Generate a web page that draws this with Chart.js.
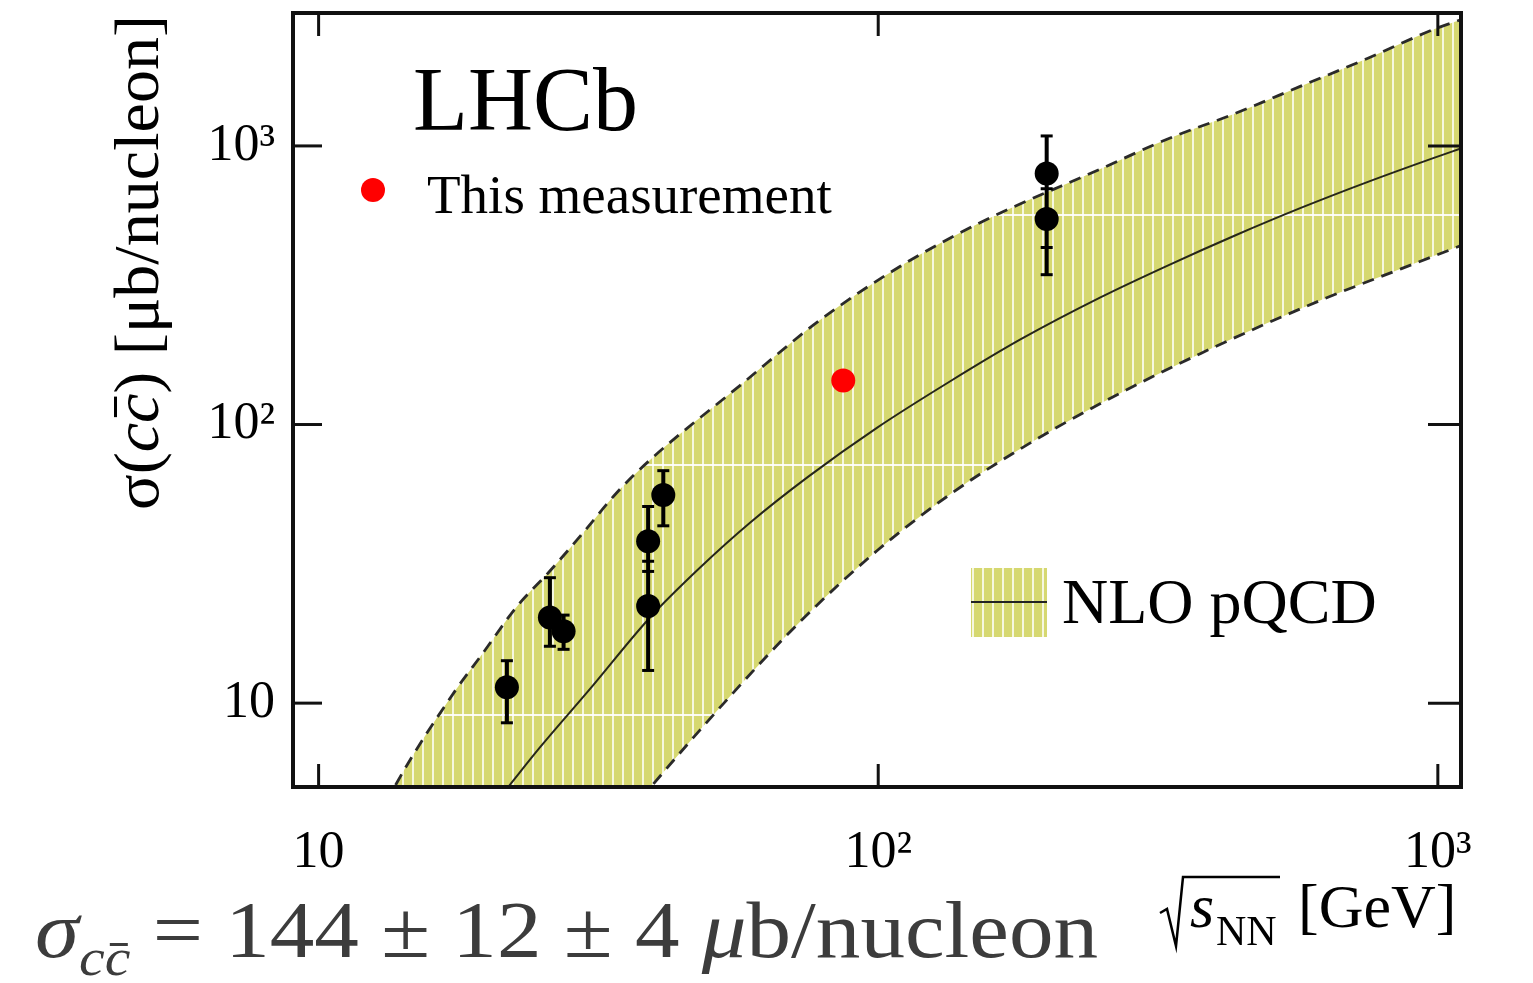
<!DOCTYPE html>
<html>
<head>
<meta charset="utf-8">
<title>Charm production cross-section vs energy</title>
<script src="https://cdn.jsdelivr.net/npm/chart.js@4.4.1/dist/chart.umd.min.js"></script>
<style>
  html, body { margin: 0; padding: 0; background: #fff; }
  canvas { display: block; }
</style>
</head>
<body>
<canvas id="xsecChart" width="1533" height="983"></canvas>
<script>
// fixed-target / collider measurements: sqrt(s_NN) [GeV], sigma(cc) [ub/nucleon]
const sqrtS   = [21.7, 25.9, 27.4, 38.8, 38.8, 41.3, 200, 200];
const sigma   = [11.4, 20.3, 18.1, 38.1, 22.3, 55.9, 796, 547];
const sigmaLo = [8.5, 16.0, 15.6, 29.7, 13.1, 43.3, 432, 345];
const sigmaHi = [14.2, 28.2, 20.7, 50.8, 32.3, 68.3, 1086, 702];

// this measurement
const lhcbS = [86.6];
const lhcbSigma = [144];

// NLO pQCD central value
const nloS     = [18.4, 21.9, 24.9, 30.5, 39.1, 48.0, 59.0, 75.0, 99.6, 134.5, 179.5, 249.5, 329, 432, 569, 750, 984, 1104];
const nloSigma = [3.26, 5.05, 6.96, 11.2, 20.3, 30.6, 44.4, 65.0, 97.5, 143, 202, 286, 372, 475, 599, 743, 906, 982];

// NLO pQCD uncertainty band, upper and lower edges
const bandUpS     = [12.3, 13.7, 17.5, 19.7, 22.6, 25.9, 29.7, 34.1, 39.1, 56.6, 78.7, 110, 152, 250, 329, 432, 569, 750, 984, 1104];
const bandUpSigma = [3.26, 5.05, 11.0, 15.2, 22.2, 29.8, 40.9, 56.9, 74.6, 138, 237, 372, 530, 828, 1059, 1302, 1639, 2064, 2622, 2847];
const bandLoS     = [12.3, 24, 32.9, 39.4, 53.7, 72.5, 99.6, 134.5, 179.5, 249.5, 377, 625, 859, 1104];
const bandLoSigma = [0.4, 1.6, 3.26, 5.05, 10.3, 19.6, 35.3, 56.2, 81.8, 119, 180, 282, 362, 440];

const xTickRange = [9, 1100];
const yTickRange = [5, 3000];

Chart.defaults.font.family = '"Liberation Serif", "Times New Roman", serif';
Chart.defaults.color = '#000';

const canvas = document.getElementById('xsecChart');
const ctx0 = canvas.getContext('2d');

// yellow hatch used for the band and its legend box
function makeHatch() {
    const c = document.createElement('canvas');
    c.width = 10;
    c.height = 250;
    const g = c.getContext('2d');
    g.fillStyle = '#d6d870';
    g.fillRect(0, 0, 10, 250);
    g.fillStyle = 'rgba(255,255,255,0.78)';
    g.fillRect(2, 0, 2, 250);
    g.fillStyle = 'rgba(255,255,255,0.9)';
    g.fillRect(0, 214, 10, 2);
    return ctx0.createPattern(c, 'repeat');
}
const hatch = makeHatch();

const pts = (xs, ys) => xs.map((x, i) => ({x: x, y: ys[i]}));

function isDecade(v) {
    const l = Math.log10(v);
    return Math.abs(l - Math.round(l)) < 1e-9;
}

function logTicks(min, max) {
    const out = [];
    for (let e = Math.floor(Math.log10(min)); e <= Math.ceil(Math.log10(max)); e++) {
        for (let m = 1; m <= 9; m++) {
            const v = Math.round(m * Math.pow(10, e));
            if (v > min && v < max) out.push({value: v});
        }
    }
    return out;
}

function decadeLabel(v) {
    if (Math.abs(v - 10) < 1e-6) return '10';
    if (Math.abs(v - 100) < 1e-6) return '10\u00b2';
    if (Math.abs(v - 1000) < 1e-6) return '10\u00b3';
    return null;
}

// pin the plot frame: axis boxes get fixed sizes and no label overhang
function pinX(s) {
    s.height = 196;
    s.paddingLeft = 0;
    s.paddingRight = 0;
}
function pinY(s) {
    s.width = 293;
    s.paddingTop = 0;
    s.paddingBottom = 0;
}

// error bars: lo/hi pairs separated by gaps
const errPoints = [];
sqrtS.forEach((s, i) => {
    errPoints.push({x: s, y: sigmaLo[i]}, {x: s, y: sigmaHi[i]}, {x: s, y: null});
});

// text made of several font runs, optional overline on a run
function drawRuns(ctx, runs, x, y, sx) {
    ctx.save();
    ctx.translate(x, y);
    ctx.scale(sx || 1, 1);
    let cx = 0;
    runs.forEach(r => {
        ctx.font = r.font;
        ctx.fillText(r.text, cx, r.dy || 0);
        const w = ctx.measureText(r.text).width;
        if (r.bar) {
            ctx.fillRect(cx + w * 0.2, (r.dy || 0) - r.bar, w * 0.7, r.barW || 3);
        }
        cx += w;
    });
    ctx.restore();
}

function runsWidth(ctx, runs) {
    let w = 0;
    runs.forEach(r => { ctx.font = r.font; w += ctx.measureText(r.text).width; });
    return w;
}

const serif = '"Liberation Serif", "Times New Roman", serif';

const frameAndText = {
    id: 'frameAndText',
    afterDraw(chart) {
        const ctx = chart.ctx;
        const a = chart.chartArea;
        const xs = chart.scales.x;
        const ys = chart.scales.y;
        ctx.save();

        // ticks on all four sides, pointing inwards
        ctx.strokeStyle = '#111';
        ctx.lineWidth = 3;
        const seg = (x1, y1, x2, y2) => {
            ctx.beginPath(); ctx.moveTo(x1, y1); ctx.lineTo(x2, y2); ctx.stroke();
        };
        xs.ticks.forEach(t => {
            const p = xs.getPixelForValue(t.value);
            const len = isDecade(t.value) ? 23 : 12;
            seg(p, a.bottom, p, a.bottom - len);
            seg(p, a.top, p, a.top + len);
        });
        ys.ticks.forEach(t => {
            const p = ys.getPixelForValue(t.value);
            const big = isDecade(t.value);
            seg(a.left, p, a.left + (big ? 29 : 16), p);
            seg(a.right, p, a.right - (big ? 33 : 17), p);
        });
        ctx.lineWidth = 4;
        ctx.strokeRect(a.left, a.top, a.right - a.left, a.bottom - a.top);

        ctx.fillStyle = '#000';
        ctx.textBaseline = 'alphabetic';
        ctx.textAlign = 'left';

        // experiment label
        ctx.font = '90px ' + serif;
        ctx.fillText('LHCb', 413, 130);

        // legend: this measurement
        ctx.fillStyle = '#ff0000';
        ctx.beginPath();
        ctx.arc(373, 190, 12, 0, Math.PI * 2);
        ctx.fill();
        ctx.fillStyle = '#000';
        ctx.font = '55px ' + serif;
        ctx.fillText('This measurement', 427, 213);

        // legend: NLO band
        ctx.fillStyle = hatch;
        ctx.fillRect(971, 568, 76, 69);
        ctx.strokeStyle = '#222';
        ctx.lineWidth = 2;
        seg(971, 602, 1047, 602);
        ctx.fillStyle = '#000';
        ctx.font = '64px ' + serif;
        ctx.fillText('NLO pQCD', 1062, 623);

        // y axis title
        const yRuns = [
            {text: '\u03c3(', font: '64px ' + serif},
            {text: 'c', font: 'italic 64px ' + serif},
            {text: 'c', font: 'italic 64px ' + serif, bar: 44, barW: 3},
            {text: ') [\u03bcb/nucleon]', font: '64px ' + serif}
        ];
        ctx.save();
        ctx.translate(158, 510);
        ctx.rotate(-Math.PI / 2);
        const yw = runsWidth(ctx, yRuns);
        drawRuns(ctx, yRuns, 0, 0, 495 / yw);
        ctx.restore();

        // x axis title: sqrt(s_NN) [GeV]
        ctx.strokeStyle = '#000';
        ctx.lineWidth = 2.5;
        ctx.beginPath();
        ctx.moveTo(1160, 913);
        ctx.lineTo(1167, 909);
        ctx.lineTo(1176, 946);
        ctx.lineTo(1183, 877);
        ctx.lineTo(1280, 877);
        ctx.stroke();
        ctx.font = 'italic 62px ' + serif;
        ctx.fillText('s', 1190, 927);
        ctx.font = '42px ' + serif;
        ctx.fillText('NN', 1216, 945);
        ctx.font = '62px ' + serif;
        ctx.fillText('[GeV]', 1298, 927);

        // result quoted under the plot
        ctx.fillStyle = '#3c3c3c';
        const fRuns = [
            {text: '\u03c3', font: 'italic 80px ' + serif},
            {text: 'c', font: 'italic 52px ' + serif, dy: 18},
            {text: 'c', font: 'italic 52px ' + serif, dy: 18, bar: 32, barW: 3},
            {text: ' = 144 \u00b1 12 \u00b1 4 ', font: '80px ' + serif},
            {text: '\u03bc', font: 'italic 80px ' + serif},
            {text: 'b/nucleon', font: '80px ' + serif}
        ];
        const fw = runsWidth(ctx, fRuns);
        drawRuns(ctx, fRuns, 35, 957, 1063 / fw);

        ctx.restore();
    }
};

new Chart(canvas, {
    type: 'line',
    data: {
        datasets: [
            {
                label: 'This measurement',
                data: pts(lhcbS, lhcbSigma),
                showLine: false,
                pointRadius: 12,
                pointBackgroundColor: '#ff0000',
                pointBorderWidth: 0
            },
            {
                label: 'Data',
                data: pts(sqrtS, sigma),
                showLine: false,
                pointRadius: 12,
                pointBackgroundColor: '#000',
                pointBorderWidth: 0
            },
            {
                label: 'Errors',
                data: errPoints,
                spanGaps: false,
                borderColor: '#000',
                borderWidth: 4,
                pointStyle: 'line',
                pointRadius: 6,
                pointBorderWidth: 3,
                pointBorderColor: '#000'
            },
            {
                label: 'NLO pQCD',
                data: pts(nloS, nloSigma),
                borderColor: '#26261a',
                borderWidth: 2,
                pointRadius: 0,
                cubicInterpolationMode: 'monotone'
            },
            {
                label: 'band up',
                data: pts(bandUpS, bandUpSigma),
                borderColor: '#2a2a2a',
                borderWidth: 2.8,
                borderDash: [12, 8],
                pointRadius: 0,
                cubicInterpolationMode: 'monotone',
                fill: '+1',
                backgroundColor: hatch
            },
            {
                label: 'band low',
                data: pts(bandLoS, bandLoSigma),
                borderColor: '#2a2a2a',
                borderWidth: 2.8,
                borderDash: [12, 8],
                pointRadius: 0,
                cubicInterpolationMode: 'monotone',
                fill: false
            }
        ]
    },
    options: {
        responsive: false,
        animation: false,
        events: [],
        layout: { padding: { left: 0, right: 72, top: 13, bottom: 0 } },
        plugins: {
            legend: { display: false },
            tooltip: { enabled: false },
            filler: { drawTime: 'beforeDatasetsDraw' }
        },
        scales: {
            x: {
                type: 'logarithmic',
                min: xTickRange[0],
                max: xTickRange[1],
                grid: { display: false, drawTicks: false },
                border: { display: false },
                afterBuildTicks: s => { s.ticks = logTicks(xTickRange[0], xTickRange[1]); },
                afterFit: pinX,
                ticks: {
                    autoSkip: false,
                    maxRotation: 0,
                    padding: 35,
                    font: { size: 52 },
                    color: '#000',
                    callback: decadeLabel
                }
            },
            y: {
                type: 'logarithmic',
                min: yTickRange[0],
                max: yTickRange[1],
                grid: { display: false, drawTicks: false },
                border: { display: false },
                afterBuildTicks: s => { s.ticks = logTicks(yTickRange[0], yTickRange[1]); },
                afterFit: pinY,
                ticks: {
                    autoSkip: false,
                    padding: 18,
                    font: { size: 52 },
                    color: '#000',
                    callback: decadeLabel
                }
            }
        }
    },
    plugins: [frameAndText]
});
</script>
</body>
</html>
